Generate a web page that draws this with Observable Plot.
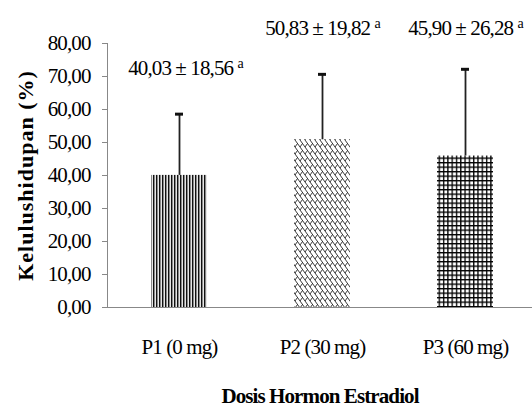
<!DOCTYPE html>
<html>
<head>
<meta charset="utf-8">
<script src="https://cdn.jsdelivr.net/npm/d3@7"></script>
<script src="https://cdn.jsdelivr.net/npm/@observablehq/plot@0.6"></script>
<style>
  html, body { margin: 0; padding: 0; background: #fff; }
  #chart svg text { fill: #000; letter-spacing: -0.9px; }
  #chart svg text.ytitle { letter-spacing: 1px; }
</style>
</head>
<body>
<svg width="0" height="0" style="position:absolute">
  <defs>
    <pattern id="pat0" patternUnits="userSpaceOnUse" width="3" height="4">
      <rect x="0" y="0" width="3" height="4" fill="#e6e6e6"/>
      <rect x="0" y="0" width="1" height="4" fill="#111"/>
      <rect x="1" y="0" width="1" height="4" fill="#8a8a8a"/>
    </pattern>
    <pattern id="pat1" patternUnits="userSpaceOnUse" width="5" height="7">
      <rect x="0" y="0" width="5" height="7" fill="#fff"/>
      <path d="M0,0 L5,7 M-5,0 L0,7 M5,0 L10,7 M0,7 L2.5,3.5 M5,7 L7.5,3.5" stroke="#222" stroke-width="0.9" fill="none"/>
    </pattern>
    <pattern id="pat2" patternUnits="userSpaceOnUse" width="4.3" height="4.5">
      <rect x="0" y="0" width="4.3" height="4.5" fill="#fff"/>
      <path d="M0,0.7 H4.3 M0.7,0 V4.5" stroke="#000" stroke-width="1.3" fill="none"/>
    </pattern>
  </defs>
</svg>
<div id="chart"></div>
<script>
const categories = ["P1 (0 mg)", "P2 (30 mg)", "P3 (60 mg)"];
const means = [40.03, 50.83, 45.90];
const sds = [18.56, 19.82, 26.28];
const letters = ["a", "a", "a"];
const yTicks = [0, 10, 20, 30, 40, 50, 60, 70, 80];
const yTitle = "Kelulushidupan (%)";
const xTitle = "Dosis Hormon Estradiol";

const fmt = v => v.toFixed(2).replace(".", ",");
const rows = categories.map((c, i) => ({
  cat: c, mean: means[i], sd: sds[i], letter: letters[i], i,
  label: `${fmt(means[i])} ± ${fmt(sds[i])} ${letters[i]}`
}));

const serif = "'Liberation Serif', 'Times New Roman', serif";

const svg = Plot.plot({
  width: 532,
  height: 407,
  marginLeft: 107,
  marginRight: 0,
  marginTop: 43,
  marginBottom: 100,
  style: { fontFamily: serif, fontSize: "21px", color: "#888", background: "#fff", overflow: "visible" },
  x: { domain: categories, range: [107, 536], paddingInner: 0.61, paddingOuter: 0.305, label: null, tickSize: 0, tickPadding: 32 },
  y: { domain: [0, 80], ticks: yTicks, tickFormat: fmt, label: null, tickSize: 5, tickPadding: 12, line: true },
  marks: [
    ...rows.map(r => Plot.barY([r], { x: "cat", y: "mean", fill: `url(#pat${r.i})` })),
    Plot.ruleY([0], { stroke: "#888" }),
    Plot.ruleX(rows, { x: "cat", y1: "mean", y2: d => d.mean + d.sd, stroke: "#222", strokeWidth: 1.8 }),
    Plot.tickY(rows, { x: "cat", y: d => d.mean + d.sd, stroke: "#111", strokeWidth: 3, insetLeft: 24, insetRight: 24 }),
    Plot.text(rows.filter(d => d.mean + d.sd < 65), { x: "cat", y: d => d.mean + d.sd, text: "label", dy: -46, dx: 6, fontSize: 21 }),
    Plot.text(rows.filter(d => d.mean + d.sd >= 65), { x: "cat", text: "label", frameAnchor: "top", dy: -23, fontSize: 21 }),
    Plot.text([yTitle], { frameAnchor: "left", textAnchor: "middle", dx: -82, rotate: -90, fontWeight: "bold", fontSize: 22 }),
    Plot.text([xTitle], { frameAnchor: "bottom", dy: 95.5, fontWeight: "bold", fontSize: 21 })
  ]
});

// superscript notation letters
d3.select(svg).selectAll("text").filter(function () { return this.textContent.includes("±"); })
  .each(function () {
    const t = this.textContent;
    const k = t.lastIndexOf(" ");
    const sel = d3.select(this);
    const tspan = sel.select("tspan");
    if (!tspan.empty()) { tspan.text(t.slice(0, k + 1)); } else { sel.text(t.slice(0, k + 1)); }
    sel.append("tspan").attr("font-size", 14).attr("dy", "-0.5em").text(t.slice(k + 1));
  });
d3.select(svg).selectAll("text").filter(function () { return this.textContent === yTitle; })
  .classed("ytitle", true);

document.getElementById("chart").appendChild(svg);
</script>
</body>
</html>
